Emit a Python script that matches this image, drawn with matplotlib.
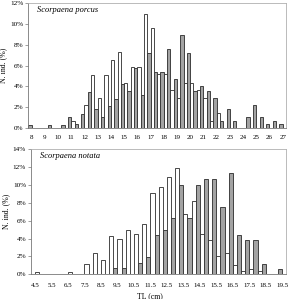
import numpy as np
import matplotlib
matplotlib.use("Agg")
import matplotlib.pyplot as plt

plt.rcParams['font.family'] = ['Liberation Serif', 'DejaVu Serif']

# Scorpaena porcus, TL bins 8 - 27 cm (0.5 cm steps)
porcus_bins = [8, 8.5, 9, 9.5, 10, 10.5, 11, 11.5, 12, 12.5, 13, 13.5, 14, 14.5,
               15, 15.5, 16, 16.5, 17, 17.5, 18, 18.5, 19, 19.5, 20, 20.5, 21,
               21.5, 22, 22.5, 23, 23.5, 24, 24.5, 25, 25.5, 26, 26.5, 27]
porcus_gray = [0.3, 0, 0, 0.3, 0, 0.3, 1.1, 0.4, 1.4, 3.5, 1.8, 1.1, 2.1, 2.8,
               4.2, 3.6, 5.8, 3.2, 7.2, 5.4, 5.4, 7.6, 4.7, 8.9, 7.2, 3.6, 4.0,
               3.6, 2.9, 0.7, 1.8, 0.7, 0, 1.1, 2.2, 1.1, 0.4, 0.7, 0.4]
porcus_white = [0, 0, 0, 0, 0, 0, 0.7, 0, 2.2, 5.1, 2.9, 5.1, 6.5, 7.3,
                4.3, 5.9, 5.9, 10.9, 9.6, 5.2, 5.2, 3.7, 2.9, 4.35, 4.35, 3.7, 2.9,
                0.7, 1.5, 0, 0, 0, 0, 0, 0, 0, 0, 0, 0]

# Scorpaena notata, TL bins 4.5 - 19.5 cm (0.5 cm steps)
notata_bins = [4.5, 5, 5.5, 6, 6.5, 7, 7.5, 8, 8.5, 9, 9.5, 10, 10.5, 11, 11.5,
               12, 12.5, 13, 13.5, 14, 14.5, 15, 15.5, 16, 16.5, 17, 17.5, 18,
               18.5, 19, 19.5]
notata_gray = [0, 0, 0, 0, 0, 0, 0, 0, 0, 0, 0.7, 0.7, 0, 1.3, 1.9,
               4.4, 5.0, 6.3, 10.0, 6.3, 10.0, 10.6, 10.6, 7.5, 11.3, 4.4, 3.8, 3.8,
               1.2, 0, 0.6]
notata_white = [0.3, 0, 0, 0, 0.3, 0, 1.1, 2.4, 1.6, 4.3, 4.0, 5.0, 4.5, 5.6, 9.1,
                9.8, 10.9, 11.9, 6.7, 8.2, 4.5, 3.8, 2.1, 2.4, 1.0, 0.4, 0.6, 0.4,
                0, 0, 0]

W, H = 290, 299
fig = plt.figure(figsize=(W / 100, H / 100), dpi=100)


def draw_panel(rect, bins, gray, white, ymax, title, label_pad):
    ax = fig.add_axes(rect)
    x = np.arange(len(bins))
    ax.bar(x - 0.25, gray, width=0.5, color='#a3a3a3', edgecolor='#2b2b2b', linewidth=0.6)
    ax.bar(x + 0.25, white, width=0.5, color='white', edgecolor='#2b2b2b', linewidth=0.6)
    ax.set_xlim(-0.5, len(bins) - 0.5)
    ax.set_ylim(0, ymax)
    ax.set_yticks(np.arange(0, ymax + 1, 2))
    ax.set_yticklabels([f"{v}%" for v in range(0, ymax + 1, 2)], fontsize=5.2)
    ax.set_xticks(x[::2])
    ax.set_xticklabels([f"{b:g}" for b in bins[::2]], fontsize=5.0)
    ax.tick_params(axis='x', length=0, pad=label_pad)
    ax.tick_params(axis='y', length=2, width=0.5, pad=1.5, color='#777777')
    for side in ['top', 'right']:
        ax.spines[side].set_color('#b0b0b0')
        ax.spines[side].set_linewidth(0.6)
    for side in ['left', 'bottom']:
        ax.spines[side].set_color('#777777')
        ax.spines[side].set_linewidth(0.6)
    ax.text(0.035, 0.975, title, transform=ax.transAxes, fontsize=6,
            style='italic', ha='left', va='top')
    ax.set_ylabel("N. ind. (%)", fontsize=5.6, labelpad=2)
    return ax


ax1 = draw_panel([28.3 / W, 1 - 128.3 / H, (286 - 28.3) / W, 125.6 / H],
                 porcus_bins, porcus_gray, porcus_white, 12, "Scorpaena porcus", 4.5)
ax2 = draw_panel([30.9 / W, 1 - 274.3 / H, (286.4 - 30.9) / W, 125.3 / H],
                 notata_bins, notata_gray, notata_white, 14, "Scorpaena notata", 6.0)

fig.text(150 / W, 1 - 296.5 / H, "TL (cm)", fontsize=5.6, ha='center', va='center')

fig.savefig("out.png", dpi=100)
